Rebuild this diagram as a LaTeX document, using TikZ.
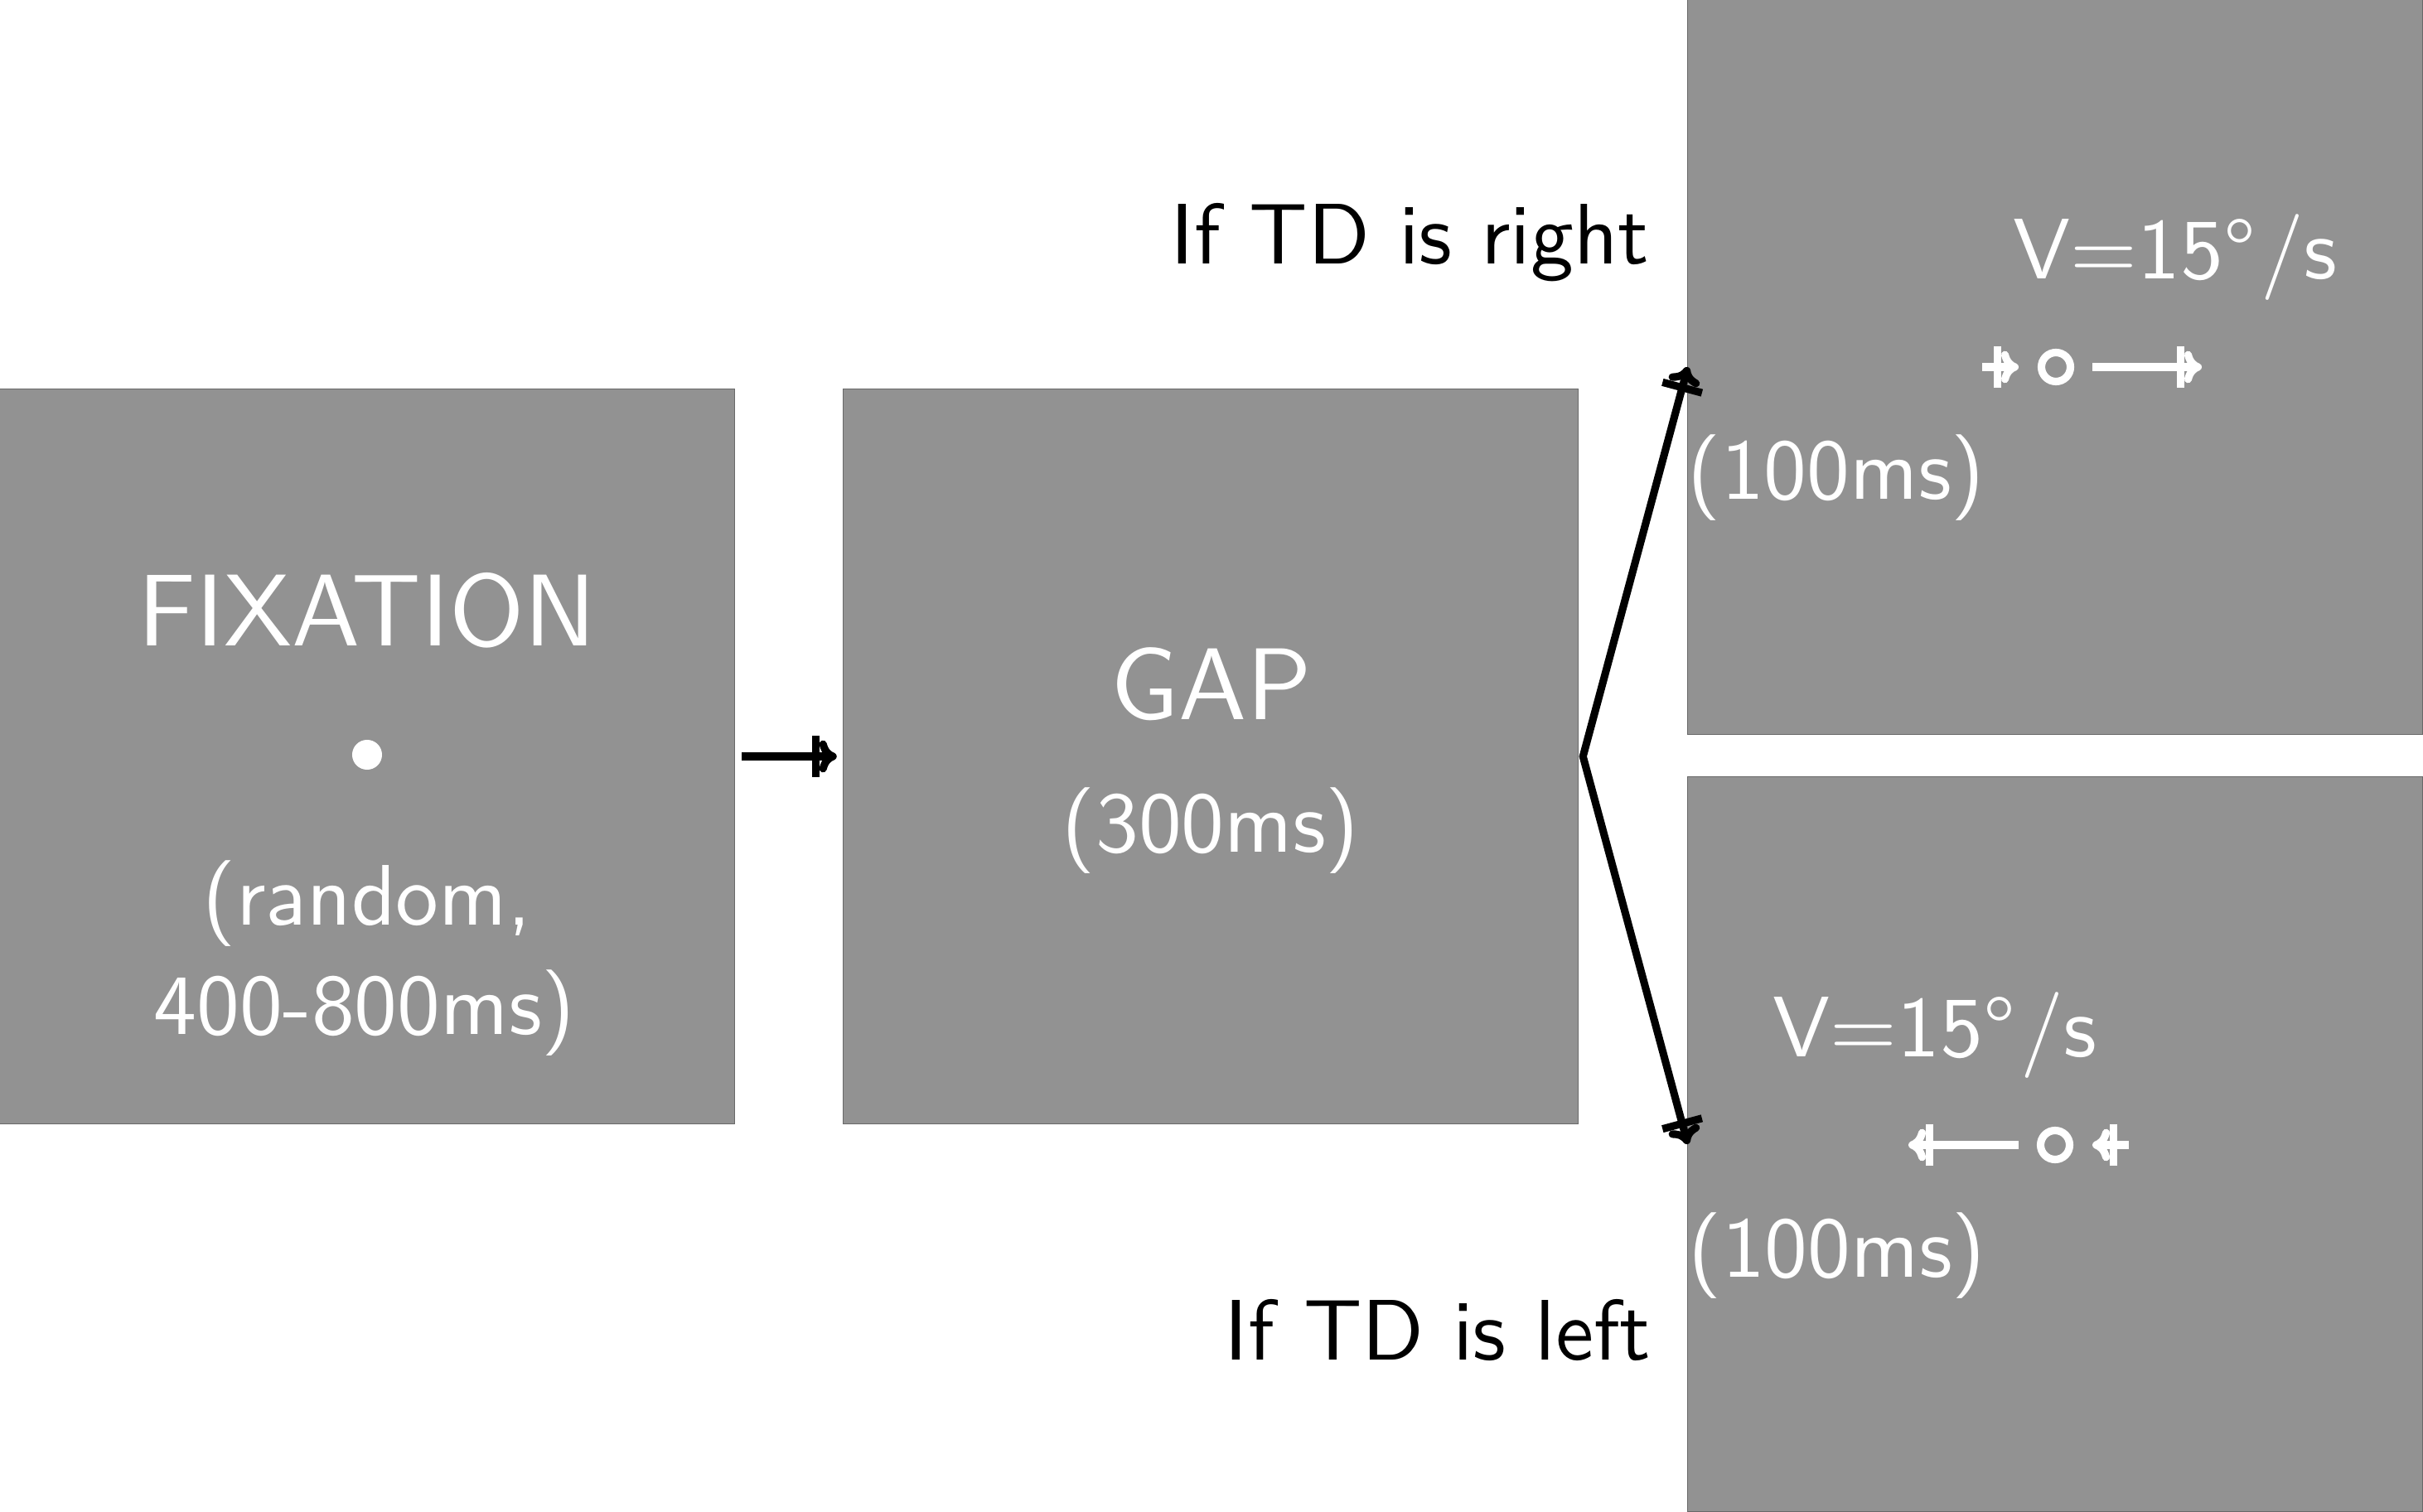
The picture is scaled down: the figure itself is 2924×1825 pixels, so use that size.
\documentclass[tikz,border=0pt]{standalone}
\usepackage{amsmath}
\usepackage{fontspec}
\setsansfont{lmsans10-regular.otf}
\usepackage{tikz}
\usetikzlibrary{arrows.meta, positioning}
\definecolor{panelgray}{RGB}{146,146,146}
\definecolor{paneledge}{RGB}{105,105,105}

\begin{document}
\begin{tikzpicture}[x = 0.01cm, y = -0.01cm,
  panel/.style = {draw = paneledge, line width = 0.4pt, fill = panelgray, minimum width = 8.86cm, minimum height = 8.86cm, inner sep = 0, outer sep = 0},
  bigtxt/.style = {text = white, inner sep = 0, font = \fontsize{35}{42}\selectfont\sffamily},
  smalltxt/.style = {text = white, inner sep = 0, font = \fontsize{29.5}{36}\selectfont\sffamily},
  sidetxt/.style = {smalltxt, text = black},
  flow/.style = {line width = 2.6pt, -{Bar[width = 14pt, sep = 0pt] To[length = 6pt, width = 11pt]}},
  ring/.style = {draw = white, line width = 2.6pt, circle, minimum size = 0.35cm, inner sep = 0}]
\useasboundingbox (0,0) rectangle (2924,1825);

\node[panel] (fix) at (443,913) {};
\node[panel] (gap) at (1461,913) {};
\node[panel] (up) at (2480,443) {};
\node[panel] (dn) at (2480,1381) {};

\node[bigtxt, anchor = base] (fixtxt) at (443,780) {FIXATION};
\node[circle, fill = white, minimum size = 0.36cm, inner sep = 0] (dot) at (443,911) {};
\node[smalltxt, anchor = base] (rnd) at (443,1116) {(random,};
\node[smalltxt, anchor = base] (rng) at (440,1248) {400-800ms)};

\node[bigtxt, anchor = base] (gaptxt) at (1462,868) {GAP};
\node[smalltxt, anchor = base] (gapdur) at (1461,1028) {(300ms)};

\node[sidetxt, anchor = base east] (ifright) at (1991,319) {If TD is right};
\node[sidetxt, anchor = base east] (ifleft) at (1993,1641) {If TD is left};

\node[smalltxt, anchor = base] (vup) at (2625,337) {V=15°\kern2pt/s};
\node[smalltxt, anchor = base west] (durup) at (2036,603) {(100ms)};
\node[smalltxt, anchor = base] (vdn) at (2335,1275) {V=15°\kern2pt/s};
\node[smalltxt, anchor = base west] (durdn) at (2037,1541) {(100ms)};

% target moving right
\node[ring] (tup) at (2481,443) {};
\coordinate (su0) at (2392,443);
\coordinate (su1) at (2436,443);
\coordinate (lu0) at (2525,443);
\coordinate (lu1) at (2657,443);
\draw[flow, white] (su0) -- (su1);
\draw[flow, white] (lu0) -- (lu1);

% target moving left
\node[ring] (tdn) at (2480,1382) {};
\coordinate (sd0) at (2569,1382);
\coordinate (sd1) at (2525,1382);
\coordinate (ld0) at (2436,1382);
\coordinate (ld1) at (2303,1382);
\draw[flow, white] (sd0) -- (sd1);
\draw[flow, white] (ld0) -- (ld1);

\coordinate[right = 0.06cm of gap.east] (split);
\draw[flow, shorten <= 0.09cm, shorten >= 0.08cm] (fix) -- (gap);
\draw[flow, {To[length = 6pt, width = 11pt] Bar[width = 14pt, sep = 0pt]}-{Bar[width = 14pt, sep = 0pt] To[length = 6pt, width = 11pt]}] (up.west) -- (split) -- (dn.west);
\end{tikzpicture}
\end{document}
